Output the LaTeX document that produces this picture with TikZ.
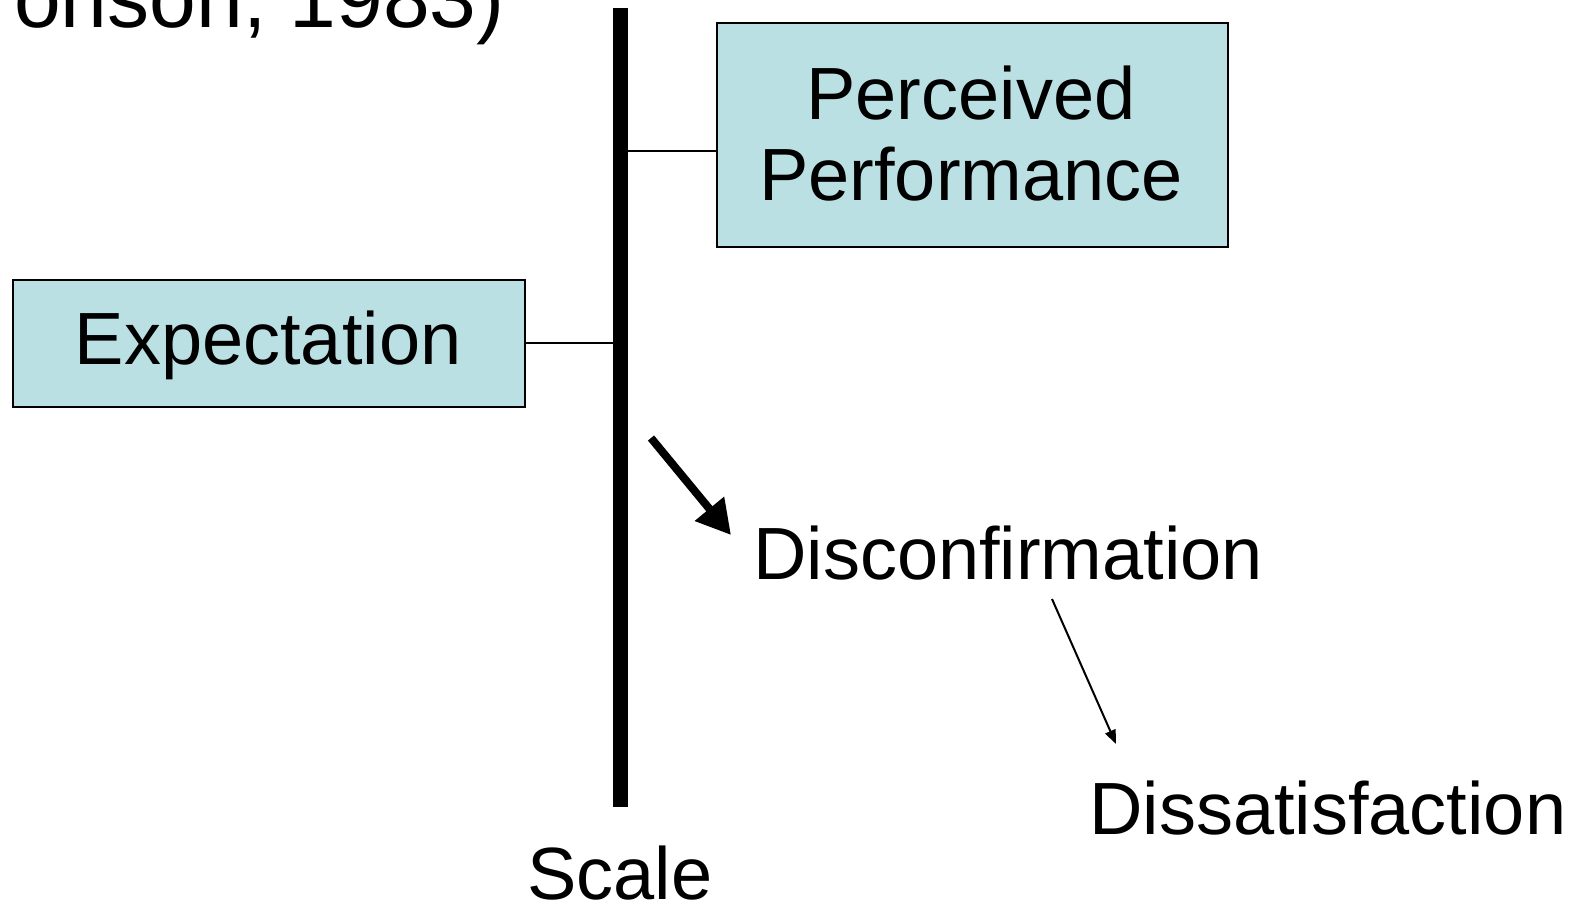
\documentclass[tikz,border=0pt]{standalone}
\usepackage{fontspec}
\setmainfont{Liberation Sans}
\usetikzlibrary{arrows.meta}
\definecolor{boxfill}{RGB}{187,224,227}
\begin{document}
\begin{tikzpicture}[x=1pt,y=-1pt,
  lbl/.style={inner sep=0pt,font=\fontsize{74}{80}\selectfont},
  box/.style={draw=black,line width=1.8pt,fill=boxfill},
  link/.style={line width=1.5pt}]
\clip (0,0) rectangle (1585,903);
\useasboundingbox (0,0) rectangle (1585,903);
% partial title at the top
\node[inner sep=0pt,font=\fontsize{84}{90}\selectfont,anchor=base west] (title) at (14,27) {onson, 1983)};
% boxes
\node[box,inner sep=0pt,anchor=north west,minimum width=512pt,minimum height=127pt] (expbox) at (12,279) {};
\node[lbl,anchor=base] (exp) at (268,364) {Expectation};
\node[box,inner sep=0pt,anchor=north west,minimum width=511pt,minimum height=224pt] (ppbox) at (716,22) {};
\node[lbl,anchor=base] (pp1) at (971,119) {Perceived};
\node[lbl,anchor=base] (pp2) at (971,200) {Performance};
% scale bar
\coordinate (bartop) at (620,8);
\coordinate (barbot) at (620,807);
\draw[line width=15pt] (bartop) -- (barbot);
\coordinate (barexp) at (613,343);
\coordinate (barpp) at (627,151);
\draw[link] (expbox.east |- barexp) -- (barexp);
\draw[link] (barpp) -- (ppbox.west |- barpp);
% texts
\node[lbl,anchor=base west] (disc) at (753,579) {Disconfirmation};
\node[lbl,anchor=base west] (diss) at (1089,834) {Dissatisfaction};
\node[lbl,anchor=base] (scale) at (620,899) {Scale};
% arrows
\coordinate (a1s) at (651,438);
\coordinate (a1e) at (731,535);
\draw[line width=8pt,-{Triangle[width=36pt,length=34pt]}] (a1s) -- (a1e);
\coordinate (a2s) at (1052,599);
\coordinate (a2e) at (1116,744);
\draw[line width=2pt,-{Triangle[width=11pt,length=14pt]}] (a2s) -- (a2e);
\end{tikzpicture}
\end{document}
